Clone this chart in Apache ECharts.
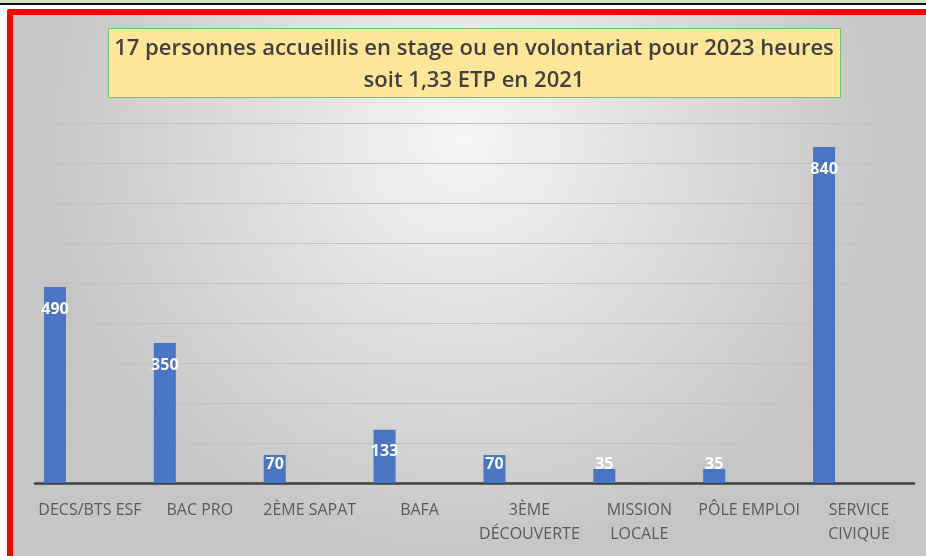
<!DOCTYPE html>
<html lang="fr">
<head>
  <meta charset="UTF-8">
  <title>stages</title>
  <style>
    * { margin: 0; padding: 0; }
    /* conteneur plein écran */
    #main { width: 926px; height: 556px; }
  </style>
</head>
<body>
  <div id="main"></div>
  <script src="https://cdn.jsdelivr.net/npm/echarts@6/dist/echarts.min.js"></script>
  <script>
    // données
    var categories = ['DECS/BTS ESF', 'BAC PRO', '2ÈME SAPAT', 'BAFA', '3ÈME\nDÉCOUVERTE', 'MISSION\nLOCALE', 'PÔLE EMPLOI', 'SERVICE\nCIVIQUE'];
    var heures = [490, 350, 70, 133, 70, 35, 35, 840];
    var titleLines = ['17 personnes accueillis en stage ou en volontariat pour 2023 heures', 'soit 1,33 ETP en 2021'];
    var font = '"Open Sans", "Noto Sans", sans-serif';

    var myCharts = echarts.init(document.getElementById('main'));

    // étiquettes : en haut dans la barre, en bas pour les petites barres
    var barData = heures.map(function (v) {
      return {
        value: v,
        label: v < 100 ? { position: 'insideBottom', distance: 11 } : { position: 'insideTop', distance: 14 }
      };
    });

    var option = {
      animation: false,
      backgroundColor: new echarts.graphic.RadialGradient(0.5, 0.25, 0.75, [
        { offset: 0, color: '#f5f5f5' },
        { offset: 1, color: '#c6c6c6' }
      ]),
      textStyle: { fontFamily: font },
      graphic: [
        { type: 'rect', shape: { x: 0, y: 0, width: 926, height: 9 }, style: { fill: '#ffffff' } },
        { type: 'rect', shape: { x: 0, y: 0, width: 926, height: 3 }, style: { fill: '#d3e6c4' } },
        { type: 'rect', shape: { x: 0, y: 3, width: 926, height: 2 }, style: { fill: '#111111' } },
        { type: 'rect', shape: { x: 0, y: 9, width: 7, height: 547 }, style: { fill: '#ffffff' } },
        { type: 'rect', shape: { x: 7, y: 9, width: 919, height: 6, r: [3, 0, 0, 0] }, style: { fill: '#ff0000' } },
        { type: 'rect', shape: { x: 7, y: 9, width: 6, height: 547, r: [3, 0, 0, 0] }, style: { fill: '#ff0000' } },
        {
          type: 'rect', z: 10,
          shape: { x: 108.5, y: 28.5, width: 732, height: 69 },
          style: { fill: '#ffe699', stroke: '#6cc36c', lineWidth: 1 }
        },
        {
          type: 'text', z: 11, x: 474, y: 65,
          style: {
            text: titleLines.join('\n'),
            align: 'center', verticalAlign: 'middle',
            font: '600 22px ' + font,
            lineHeight: 32,
            fill: '#404040'
          }
        }
      ],
      grid: { left: 35, right: 12, top: 123, bottom: 73, containLabel: false },
      xAxis: {
        type: 'category',
        data: categories,
        axisTick: { show: false },
        axisLine: { lineStyle: { color: '#404040', width: 2.5 } },
        axisLabel: { color: '#595959', fontSize: 16, margin: 15, lineHeight: 24, interval: 0 }
      },
      yAxis: {
        type: 'value',
        min: 0, max: 900, interval: 100,
        axisLabel: { show: false },
        axisLine: { show: false },
        axisTick: { show: false },
        splitLine: { lineStyle: { color: '#c0c0c0', width: 1 } }
      },
      series: [
        {
          name: 'heures',
          type: 'bar',
          barWidth: 22,
          barGap: '218%',
          itemStyle: { color: '#4a75c4' },
          label: { show: true, color: '#ffffff', fontWeight: 'bold', fontSize: 16 },
          data: barData
        },
        { // série vide (place réservée comme dans le tableur)
          name: 'vide',
          type: 'bar',
          barWidth: 22,
          data: heures.map(function () { return null; })
        }
      ]
    };
    myCharts.setOption(option);
  </script>
</body>
</html>
